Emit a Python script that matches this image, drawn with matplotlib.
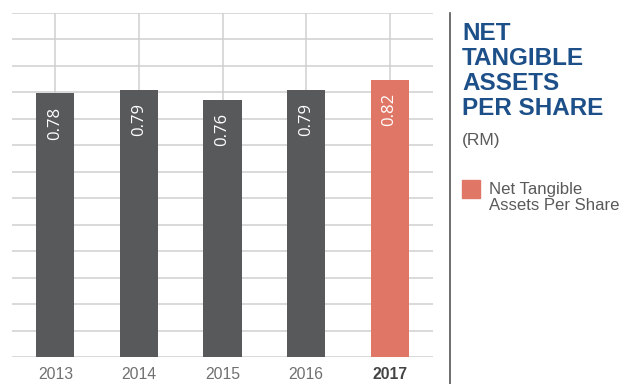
import matplotlib
matplotlib.use("Agg")
import matplotlib.pyplot as plt
from matplotlib.lines import Line2D
from matplotlib.patches import Rectangle
import numpy as np

# ---- data ----
years = ["2013", "2014", "2015", "2016", "2017"]
nta = [0.78, 0.79, 0.76, 0.79, 0.82]
highlight = "2017"

dark = "#58595b"
salmon = "#e07766"
blue = "#1d4f89"
grey_txt = "#5a5a5a"

plt.rcParams["font.family"] = ["Liberation Sans", "DejaVu Sans"]

fig = plt.figure(figsize=(6.36, 3.84), dpi=100)
ax = fig.add_axes([12 / 636, (384 - 357.3) / 384, 421 / 636, 344.3 / 384])

x = np.arange(len(years))
colors = [salmon if y == highlight else dark for y in years]
ax.bar(x, nta, width=0.455, color=colors, zorder=3)

ymax = 1.017
ax.set_xlim(-0.52, 4.52)
ax.set_ylim(0, ymax)
ax.set_yticks(np.linspace(0, ymax, 14))
ax.set_xticks(x)
ax.grid(True, color="#cfcfcf", linewidth=1.1, zorder=0)
ax.set_axisbelow(True)
for s in ax.spines.values():
    s.set_visible(False)
ax.tick_params(axis="y", left=False, labelleft=False)
ax.tick_params(axis="x", length=0, pad=7)
ax.set_xticklabels(years, fontsize=11.3, color="#707070")
for lbl in ax.get_xticklabels():
    if lbl.get_text() == highlight:
        lbl.set_fontweight("bold")
        lbl.set_color("#444444")

# value labels inside bars
for xi, v in zip(x, nta):
    ax.annotate(f"{v:.2f}", (xi, v), xytext=(0, -9.5), textcoords="offset points",
                rotation=90, ha="center", va="top", color="white", fontsize=12,
                family=["Open Sans", "DejaVu Sans"], zorder=4)

# ---- right panel ----
fig.add_artist(Line2D([450 / 636, 450 / 636], [0, 1 - 13 / 384], color="#555555", linewidth=1.2))
fig.text(462 / 636, 1 - 22 / 384, "NET\nTANGIBLE\nASSETS\nPER SHARE", color=blue,
         fontsize=17.5, fontweight="bold", va="top", ha="left", linespacing=1.12)
fig.text(462 / 636, 1 - 133 / 384, "(RM)", color=grey_txt, fontsize=12.5, va="top", ha="left")
fig.add_artist(Rectangle((462 / 636, 1 - 198 / 384), 18 / 636, 18 / 384,
                         transform=fig.transFigure, color=salmon))
fig.text(489 / 636, 1 - 182 / 384, "Net Tangible\nAssets Per Share", color=grey_txt,
         fontsize=12.1, va="top", ha="left", linespacing=1.1)

fig.savefig("out.png", dpi=100)
